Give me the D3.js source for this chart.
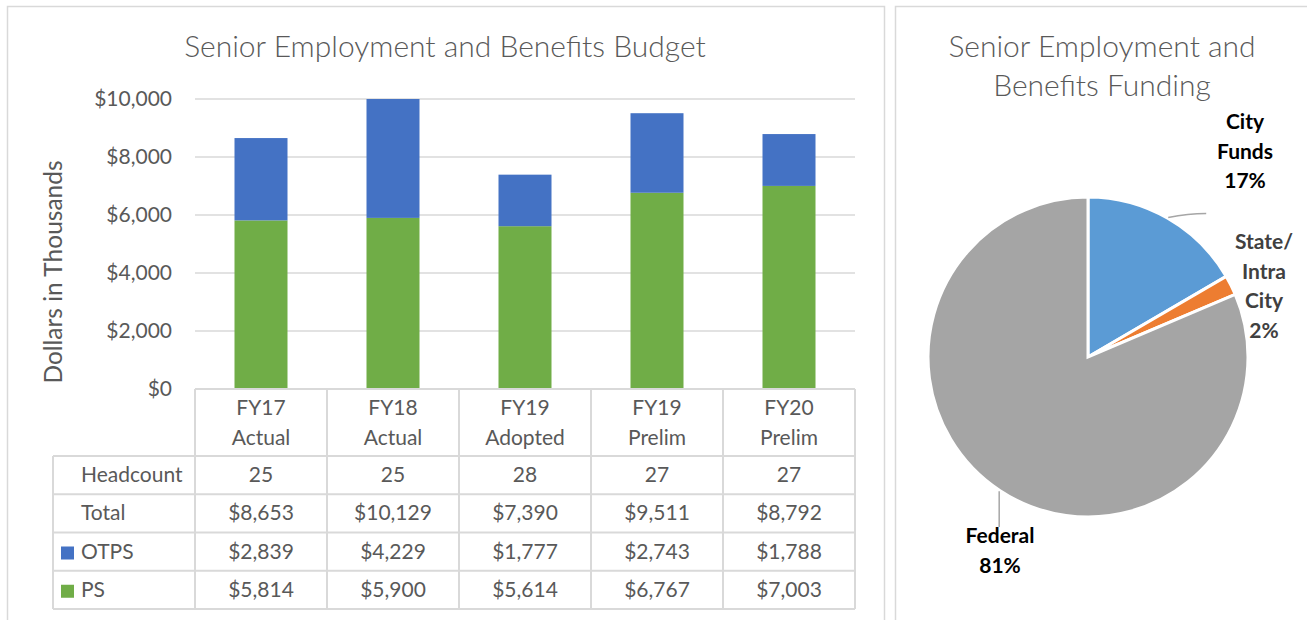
<!DOCTYPE html>
<html><head><meta charset="utf-8">
<script src="https://cdn.jsdelivr.net/npm/d3@7"></script>
<style>
html,body{margin:0;padding:0;background:#fff;}
svg{display:block;font-family:Lato,"Open Sans",sans-serif;}
</style></head>
<body>
<svg id="c" width="1307" height="620"></svg>
<script>
// ---- data ----
const categories = ["FY17 Actual","FY18 Actual","FY19 Adopted","FY19 Prelim","FY20 Prelim"];
const catLine1 = ["FY17","FY18","FY19","FY19","FY20"];
const catLine2 = ["Actual","Actual","Adopted","Prelim","Prelim"];
const psValues = [5814,5900,5614,6767,7003];
const otpsValues = [2839,4229,1777,2743,1788];
const totals = [8653,10129,7390,9511,8792];
const headcount = [25,25,28,27,27];
const yTicks = [0,2000,4000,6000,8000,10000];
const pieLabels = ["City Funds","State/ Intra City","Federal"];
const pieValues = [16.6,2.0,81.4];

const barTitle = "Senior Employment and Benefits Budget";
const pieTitle = ["Senior Employment and","Benefits Funding"];

// ---- styles ----
const C_OTPS="#4472C4", C_PS="#70AD47";
const pieColors=["#5B9BD5","#ED7D31","#A5A5A5"];
const TXT="#595959", GRID="#d9d9d9";

const svg=d3.select("#c");

// panel borders
svg.append("rect").attr("x",7.5).attr("y",6.5).attr("width",877).attr("height",640)
  .attr("fill","none").attr("stroke",GRID).attr("stroke-width",1.5);
svg.append("rect").attr("x",895.5).attr("y",6.5).attr("width",440).attr("height",640)
  .attr("fill","none").attr("stroke",GRID).attr("stroke-width",1.5);

// ---- bar chart ----
const x=d3.scaleBand().domain(categories).range([195,855]).paddingInner(0).paddingOuter(0);
const y=d3.scaleLinear().domain([0,10000]).range([389,99]).clamp(true);
const barW=53;

svg.append("text").attr("x",445).attr("y",57).attr("text-anchor","middle")
  .attr("fill",TXT).attr("font-size",30).attr("font-weight",300).text(barTitle);

// gridlines
svg.append("g").selectAll("line").data(yTicks.filter(d=>d>0)).join("line")
  .attr("x1",195).attr("x2",855).attr("y1",d=>y(d)).attr("y2",d=>y(d))
  .attr("stroke",GRID).attr("stroke-width",1.5);

// y axis labels
const yAxis=d3.axisLeft(y).tickValues(yTicks).tickSize(0).tickPadding(0)
  .tickFormat(d=>"$"+d3.format(",")(d));
const ga=svg.append("g").attr("transform","translate(172,0)").call(yAxis);
ga.select(".domain").remove();
ga.selectAll("text").attr("font-size",21).attr("fill",TXT).attr("font-family","Lato,sans-serif");

svg.append("text").attr("transform","translate(62,272) rotate(-90)").attr("text-anchor","middle")
  .attr("fill",TXT).attr("font-size",24.5).text("Dollars in Thousands");

// bars
const bars=svg.append("g");
bars.selectAll(".ps").data(categories).join("rect")
  .attr("x",d=>x(d)+x.bandwidth()/2-barW/2).attr("width",barW)
  .attr("y",(d,i)=>y(psValues[i])).attr("height",(d,i)=>y(0)-y(psValues[i]))
  .attr("fill",C_PS);
bars.selectAll(".otps").data(categories).join("rect")
  .attr("x",d=>x(d)+x.bandwidth()/2-barW/2).attr("width",barW)
  .attr("y",(d,i)=>y(psValues[i]+otpsValues[i])).attr("height",(d,i)=>y(psValues[i])-y(psValues[i]+otpsValues[i]))
  .attr("fill",C_OTPS);

// data table
const tbl=svg.append("g");
const tblLeft=53, headTop=389, headBot=456, rowH=38.25;
const rows=[
  {label:"Headcount", vals:headcount.map(String)},
  {label:"Total", vals:totals.map(v=>"$"+d3.format(",")(v))},
  {label:"OTPS", vals:otpsValues.map(v=>"$"+d3.format(",")(v)), color:C_OTPS},
  {label:"PS", vals:psValues.map(v=>"$"+d3.format(",")(v)), color:C_PS}
];
const tblBot=headBot+rowH*rows.length;
const lineAttrs=s=>s.attr("stroke",GRID).attr("stroke-width",2);
lineAttrs(tbl.append("line").attr("x1",195).attr("x2",855).attr("y1",headTop).attr("y2",headTop));
rows.forEach((r,i)=>{
  lineAttrs(tbl.append("line").attr("x1",tblLeft).attr("x2",855).attr("y1",headBot+rowH*i).attr("y2",headBot+rowH*i));
});
lineAttrs(tbl.append("line").attr("x1",tblLeft).attr("x2",855).attr("y1",tblBot).attr("y2",tblBot));
lineAttrs(tbl.append("line").attr("x1",tblLeft).attr("x2",tblLeft).attr("y1",headBot).attr("y2",tblBot));
categories.forEach(c=>{
  lineAttrs(tbl.append("line").attr("x1",x(c)).attr("x2",x(c)).attr("y1",headTop).attr("y2",tblBot));
});
lineAttrs(tbl.append("line").attr("x1",855).attr("x2",855).attr("y1",headTop).attr("y2",tblBot));

tbl.selectAll(".h1").data(categories).join("text")
  .attr("x",d=>x(d)+x.bandwidth()/2).attr("y",415).attr("text-anchor","middle")
  .attr("fill",TXT).attr("font-size",21).text((d,i)=>catLine1[i]);
tbl.selectAll(".h2").data(categories).join("text")
  .attr("x",d=>x(d)+x.bandwidth()/2).attr("y",445).attr("text-anchor","middle")
  .attr("fill",TXT).attr("font-size",21).text((d,i)=>catLine2[i]);

rows.forEach((r,ri)=>{
  const by=headBot+rowH*ri+26;
  tbl.append("text").attr("x",81).attr("y",by).attr("fill",TXT).attr("font-size",21).text(r.label);
  if(r.color) tbl.append("rect").attr("x",61).attr("y",by-12).attr("width",13).attr("height",13).attr("fill",r.color);
  tbl.selectAll(null).data(categories).join("text")
    .attr("x",d=>x(d)+x.bandwidth()/2).attr("y",by).attr("text-anchor","middle")
    .attr("fill",TXT).attr("font-size",21).text((d,i)=>r.vals[i]);
});

// ---- pie chart ----
const cx=1088, cy=357, R=160;
pieTitle.forEach((t,i)=>{
  svg.append("text").attr("x",1102).attr("y",57+39*i).attr("text-anchor","middle")
    .attr("fill",TXT).attr("font-size",30).attr("font-weight",300).text(t);
});
const pie=d3.pie().sort(null).value(d=>d)(pieValues);
const arc=d3.arc().innerRadius(0).outerRadius(R);
const pg=svg.append("g").attr("transform",`translate(${cx},${cy})`);
pg.selectAll("path").data(pie).join("path").attr("d",arc)
  .attr("fill",(d,i)=>pieColors[i]).attr("stroke","#fff").attr("stroke-width",3).attr("stroke-linejoin","miter");

// labels (layout offsets relative to pie centre)
const labelLayout=[
  {dx:157,dy:-228,lines:["City","Funds"],color:"#000"},
  {dx:176,dy:-108,lines:["State/","Intra","City"],color:"#404040"},
  {dx:-88,dy:186,lines:["Federal"],color:"#000"}
];
pie.forEach((p,i)=>{
  const L=labelLayout[i];
  const lines=L.lines.concat([Math.round(pieValues[i])+"%"]);
  const t=pg.append("text").attr("text-anchor","middle").attr("fill",L.color)
    .attr("font-size",21).attr("font-weight",700);
  lines.forEach((s,k)=>t.append("tspan").attr("x",L.dx).attr("y",L.dy+29.5*k).text(s));
});
function pt(a,r){return [Math.sin(a)*r,-Math.cos(a)*r];}
const mCity=(pie[0].startAngle+pie[0].endAngle)/2;
const p0=pt(mCity,R+1);
pg.append("path").attr("d",`M${p0[0]},${p0[1]} Q${p0[0]+20},${p0[1]-4} ${p0[0]+38},${p0[1]-4}`)
  .attr("fill","none").attr("stroke","#a6a6a6").attr("stroke-width",1.5);
const mFed=(pie[2].startAngle+pie[2].endAngle)/2;
const p2=pt(mFed,R+1);
pg.append("line").attr("x1",p2[0]).attr("y1",p2[1]).attr("x2",p2[0]).attr("y2",170)
  .attr("stroke","#a6a6a6").attr("stroke-width",1.5);
</script>
</body></html>
